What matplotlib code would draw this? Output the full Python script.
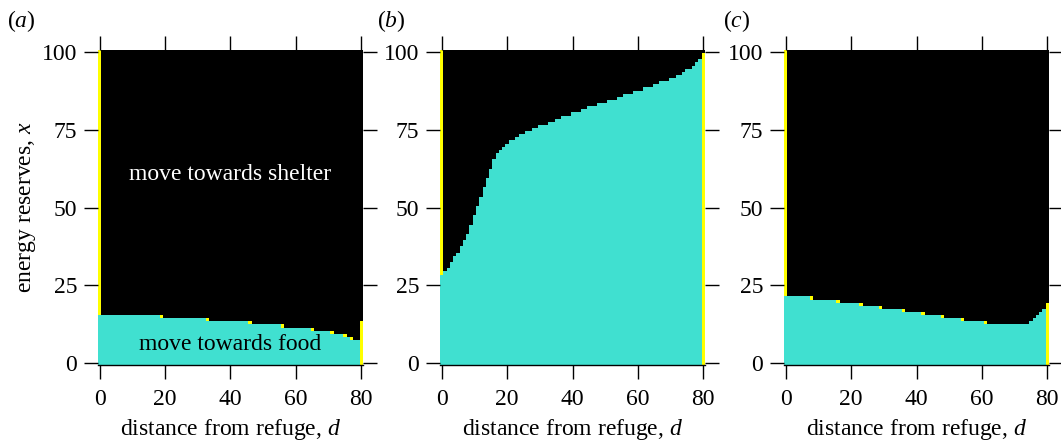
import numpy as np
import matplotlib
matplotlib.use("Agg")
import matplotlib.pyplot as plt
from matplotlib.colors import ListedColormap, BoundaryNorm

plt.rcParams['font.family'] = ['Liberation Serif', 'DejaVu Serif']
plt.rcParams['mathtext.fontset'] = 'custom'
plt.rcParams['mathtext.rm'] = 'Liberation Serif'
plt.rcParams['mathtext.it'] = 'Liberation Serif:italic'

# ---- data ----
distances = list(range(0, 81))          # d = 0 .. 80
energy_levels = list(range(0, 101))     # x = 0 .. 100

# number of energy levels (from x=0) at which the animal moves towards food
food_threshold_a = [16]*19 + [15]*14 + [14]*13 + [13]*10 + [12]*9 + [11]*6 + [10]*4 + [9]*2 + [8]*3 + [14]
food_threshold_b = [29, 30, 31, 33, 35, 36, 38, 40, 42, 45, 48, 51, 54, 57, 60, 63, 66, 68, 69, 70,
                    71, 72, 72, 73, 74, 74, 75, 75, 76, 76, 77, 77, 77, 78, 78, 79, 79, 80, 80, 80,
                    81, 81, 81, 82, 82, 83, 83, 83, 84, 84, 84, 85, 85, 85, 86, 86, 87, 87, 87, 88,
                    88, 88, 89, 89, 89, 90, 90, 91, 91, 91, 92, 92, 93, 93, 94, 95, 95, 96, 97, 98,
                    100]
food_threshold_c = [22]*8 + [21]*8 + [20]*7 + [19]*6 + [18]*7 + [17]*6 + [16]*6 + [15]*6 + [14]*7 + [13]*14 \
                   + [14, 15, 16, 17, 18, 20]

# cells where both actions are equivalent (yellow) : (d, x)
tie_cells_a = [(19, 15), (33, 14), (46, 13), (56, 12), (65, 11), (71, 10), (75, 9), (77, 8)]
tie_cells_b = []
tie_cells_c = [(8, 21), (16, 20), (23, 19), (29, 18), (36, 17), (42, 16), (48, 15), (54, 14), (61, 13)]

panel_labels = ['a', 'b', 'c']
xticks = [0, 20, 40, 60, 80]
yticks = [0, 25, 50, 75, 100]

FOOD, SHELTER, STAY = 0, 1, 2


def build_grid(thresholds, ties):
    d = np.array(distances)
    x = np.array(energy_levels)
    t = np.array(thresholds)
    grid = np.where(x[:, None] < t[None, :], FOOD, SHELTER)
    # at the refuge (d = 0): staying replaces moving towards shelter
    grid[x >= t[0], 0] = STAY
    # at the food patch (d = max): staying replaces moving towards food
    grid[x < t[-1], len(d) - 1] = STAY
    for (dd, xx) in ties:
        grid[xx, dd] = STAY
    return grid


grids = [build_grid(food_threshold_a, tie_cells_a),
         build_grid(food_threshold_b, tie_cells_b),
         build_grid(food_threshold_c, tie_cells_c)]

cmap = ListedColormap(['#40E0D0', '#000000', '#FFFF00'])
norm = BoundaryNorm([-0.5, 0.5, 1.5, 2.5], cmap.N)

W, H = 1061, 444
fig = plt.figure(figsize=(W/100, H/100), dpi=100)

lefts_px = [98, 440, 784]
ax_w, ax_top, ax_bot = 265, 50, 365
label_px = [(7, 21), (377, 21), (723, 21)]
FS = 17

for i, (grid, lx) in enumerate(zip(grids, lefts_px)):
    ax = fig.add_axes([lx / W, (H - ax_bot) / H, ax_w / W, (ax_bot - ax_top) / H])
    ax.imshow(grid, cmap=cmap, norm=norm, origin='lower', aspect='auto', interpolation='nearest',
              extent=(distances[0] - 0.5, distances[-1] + 0.5, energy_levels[0] - 0.5, energy_levels[-1] + 0.5))
    ax.set_xlim(distances[0] - 0.5, distances[-1] + 0.5)
    ax.set_ylim(energy_levels[0] - 0.5, energy_levels[-1] + 0.5)
    ax.set_xticks(xticks)
    ax.set_yticks(yticks)
    ax.tick_params(direction='out', length=10, width=1.0, labelsize=FS, pad=5,
                   top=True, right=True, labeltop=False, labelright=False)
    ax.tick_params(axis='x', pad=7)
    for s in ['left', 'right', 'top']:
        ax.spines[s].set_visible(False)
    ax.spines['bottom'].set_linewidth(1.0)
    ax.set_xlabel('distance from refuge, $d$', fontsize=FS, labelpad=5)
    if i == 0:
        ax.set_ylabel('energy reserves, $x$', fontsize=FS, labelpad=3)
        ax.text(40, 60.5, 'move towards shelter', color='white', fontsize=FS, ha='center', va='center')
        ax.text(40, 6, 'move towards food', color='black', fontsize=FS, ha='center', va='center')
    px, py = label_px[i]
    fig.text(px / W, 1 - py / H, '($%s$)' % panel_labels[i], fontsize=FS, ha='left', va='center')

fig.savefig('out.png', dpi=100)
